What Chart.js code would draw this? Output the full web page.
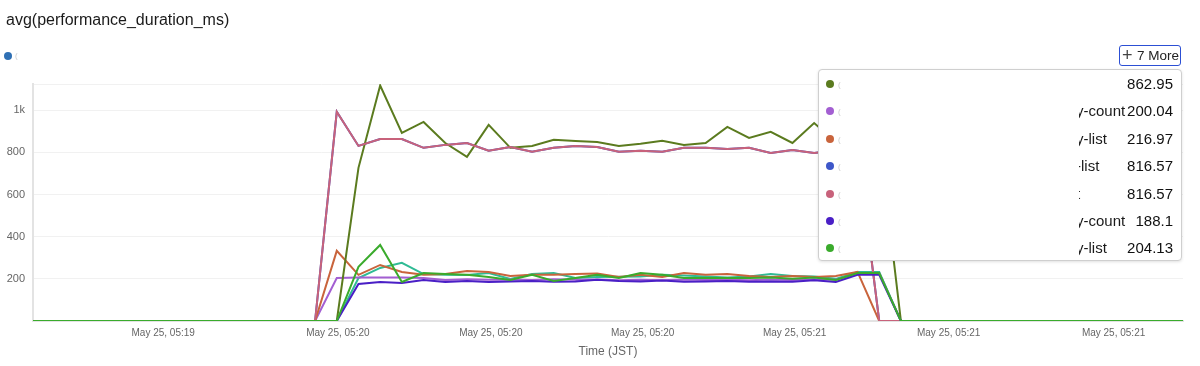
<!DOCTYPE html>
<html>
<head>
<meta charset="utf-8">
<script src="https://cdn.jsdelivr.net/npm/chart.js@4.4.1/dist/chart.umd.min.js"></script>
<style>
  html, body { margin: 0; padding: 0; background: #fff; }
  body { width: 1200px; height: 366px; position: relative; overflow: hidden;
         font-family: "Liberation Sans", Arial, sans-serif; color: #1a1a1a; }
  #chart { position: absolute; left: 0; top: 0; }
  .title { position: absolute; left: 6px; top: 11px; font-size: 16px; }
  .dot { position: absolute; width: 8px; height: 8px; border-radius: 50%; }
  .paren { position: absolute; font-size: 8px; color: #ccc; }
  .more-btn { position: absolute; left: 1119px; top: 45px; width: 60px; height: 19px;
              border: 1.5px solid #2c4fd4; border-radius: 3px; font-size: 13.5px;
              line-height: 19px; color: #222; white-space: nowrap; }
  .more-btn .plus { position: absolute; left: 2px; top: 0; font-size: 18px; font-weight: 300; color: #444; }
  .more-btn .txt { position: absolute; left: 17px; top: 0; }
  .popover { position: absolute; left: 818px; top: 69px; width: 362px; height: 190px;
             background: #fff; border: 1px solid #cfcfcf; border-radius: 4px;
             box-shadow: 0 1px 3px rgba(0,0,0,0.12); }
  .row { position: absolute; left: 0; width: 362px; height: 20px; line-height: 18px; }
  .row .lbl { position: absolute; left: 260px; top: 1px; width: 47px; overflow: hidden;
              font-size: 15px; white-space: nowrap; color: #1a1a1a; }
  .row .val { position: absolute; right: 8px; top: 1px; font-size: 15px; color: #111; }
</style>
</head>
<body>
<canvas id="chart" width="1200" height="366"></canvas>
<div class="title">avg(performance_duration_ms)</div>
<div id="legend-row"></div>
<div class="more-btn"><span class="plus">+</span><span class="txt">7 More</span></div>
<div class="popover" id="popover"></div>

<script>
// ---------- Data -------------------------------------------------------
// one point every few seconds, 54 buckets on the x axis
const timeIdx = [
  0, 1, 2, 3, 4, 5, 6, 7, 8, 9, 10, 11, 12, 13, 14, 15, 16, 17,
  18, 19, 20, 21, 22, 23, 24, 25, 26, 27, 28, 29, 30, 31, 32, 33, 34, 35,
  36, 37, 38, 39, 40, 41, 42, 43, 44, 45, 46, 47, 48, 49, 50, 51, 52, 53
];
const xTickPos    = [6, 14.05, 21.1, 28.1, 35.1, 42.2, 49.8];
const xTickLabels = ["May 25, 05:19", "May 25, 05:20", "May 25, 05:20", "May 25, 05:20",
                     "May 25, 05:21", "May 25, 05:21", "May 25, 05:21"];

const oliveVals = [0,0,0,0,0,0,0,0,0,0,0,0,0,0,0,
  727, 1118, 893, 945, 845, 779, 931, 822, 831, 860, 855, 850, 831, 841, 855, 836, 845, 921, 869, 898, 845, 940, 850, 880, 870,
  0,0,0,0,0,0,0,0,0,0,0,0,0,0];
const purpleVals = [0,0,0,0,0,0,0,0,0,0,0,0,0,0,
  204, 206, 207, 206, 204, 195, 198, 196, 197, 195, 198, 196, 197, 193, 196, 194, 197, 195, 196, 194, 197, 195, 198, 196, 222, 228,
  0,0,0,0,0,0,0,0,0,0,0,0,0,0];
const orangeVals = [0,0,0,0,0,0,0,0,0,0,0,0,0,0,
  333, 219, 266, 233, 219, 223, 237, 233, 214, 219, 219, 223, 225, 209, 219, 209, 228, 219, 223, 214, 209, 214, 209, 214, 233,
  0,0,0,0,0,0,0,0,0,0,0,0,0,0,0];
const pinkVals = [0,0,0,0,0,0,0,0,0,0,0,0,0,0,
  993, 831, 864, 864, 822, 836, 845, 808, 826, 803, 822, 831, 826, 803, 808, 803, 822, 822, 817, 822, 798, 812, 798, 810, 816,
  0,0,0,0,0,0,0,0,0,0,0,0,0,0,0];
const blueVals = [0,0,0,0,0,0,0,0,0,0,0,0,0,0,
  993, 831, 864, 864, 822, 836, 845, 808, 826, 803, 822, 831, 826, 803, 808, 803, 822, 822, 817, 822, 798, 812, 798, 810, 816,
  0,0,0,0,0,0,0,0,0,0,0,0,0,0,0];
const indigoVals = [0,0,0,0,0,0,0,0,0,0,0,0,0,0,0,
  176, 185, 180, 195, 185, 190, 185, 188, 190, 186, 188, 196, 190, 188, 192, 186, 188, 190, 186, 188, 186, 194, 185, 219, 219,
  0,0,0,0,0,0,0,0,0,0,0,0,0,0];
const greenVals = [0,0,0,0,0,0,0,0,0,0,0,0,0,0,0,
  257, 361, 185, 228, 223, 219, 209, 195, 219, 190, 204, 219, 204, 228, 219, 204, 204, 204, 204, 206, 200, 206, 195, 228, 228,
  0,0,0,0,0,0,0,0,0,0,0,0,0,0];
const tealVals = [0,0,0,0,0,0,0,0,0,0,0,0,0,0,0,
  204, 252, 276, 223, 219, 218, 228, 200, 223, 228, 204, 209, 210, 211, 219, 216, 211, 207, 211, 223, 214, 211, 200, 233, 233,
  0,0,0,0,0,0,0,0,0,0,0,0,0,0];

// series shown in the "+7 More" list, with their averages
const moreColors = ["#5b7b1f", "#a35fd2", "#c9643c", "#3d57c9", "#c8627b", "#4a1fc6", "#3aab2c"];
const moreTails  = ["", "y-count", "y-list", "-list", "t", "y-count", "y-list"];
const moreValues = ["862.95", "200.04", "216.97", "816.57", "816.57", "188.1", "204.13"];
const firstColor = "#2f70b4";
const tealColor  = "#2fbb94";

// ---------- Chart ------------------------------------------------------
const ds = (data, color, order) => ({
  data, borderColor: color, backgroundColor: color, borderWidth: 2,
  pointRadius: 0, tension: 0, order,
});

new Chart(document.getElementById("chart"), {
  type: "line",
  data: {
    labels: timeIdx,
    datasets: [
      ds(tealVals,   tealColor,      6),
      ds(oliveVals,  moreColors[0],  3),
      ds(purpleVals, moreColors[1],  5),
      ds(orangeVals, moreColors[2],  4),
      ds(blueVals,   moreColors[3],  7),
      ds(pinkVals,   moreColors[4],  2),
      ds(indigoVals, moreColors[5],  1),
      ds(greenVals,  moreColors[6],  0),
    ],
  },
  options: {
    responsive: false,
    animation: false,
    devicePixelRatio: 1,
    layout: { padding: { left: 0, top: 84, right: 17, bottom: 0 } },
    plugins: { legend: { display: false }, tooltip: { enabled: false } },
    scales: {
      x: {
        type: "linear",
        min: 0, max: 53,
        afterFit: s => { s.height = 45; },
        afterBuildTicks: s => { s.ticks = xTickPos.map(v => ({ value: v })); },
        grid: { display: false, drawTicks: false },
        border: { color: "#e3e3e3", width: 2 },
        ticks: {
          padding: 6, color: "#666", maxRotation: 0, autoSkip: false,
          font: { family: "Liberation Sans", size: 10 },
          callback: (v, i) => xTickLabels[i],
        },
        title: {
          display: true, text: "Time (JST)", color: "#666",
          font: { family: "Liberation Sans", size: 12 },
          padding: { top: 4, bottom: 7 },
        },
      },
      y: {
        min: 0, max: 1125,
        afterFit: s => { s.width = 33; },
        grid: { color: "#f1f1f1", drawTicks: false },
        border: { color: "#e3e3e3", width: 2 },
        ticks: {
          stepSize: 200, padding: 8, color: "#666",
          font: { family: "Liberation Sans", size: 11 },
          callback: v => (v === 0 || v % 200 !== 0) ? "" : (v >= 1000 ? (v / 1000) + "k" : v),
        },
      },
    },
  },
});

// ---------- Legend row + popover --------------------------------------
const legendRow = document.getElementById("legend-row");
legendRow.innerHTML =
  `<div class="dot" style="left:4px;top:52px;background:${firstColor}"></div>` +
  `<div class="paren" style="left:15px;top:51px">(</div>`;

const pop = document.getElementById("popover");
moreColors.forEach((c, i) => {
  const top = 4 + i * 27.4;
  const row = document.createElement("div");
  row.className = "row";
  row.style.top = top + "px";
  row.innerHTML =
    `<div class="dot" style="left:7px;top:6px;background:${c}"></div>` +
    `<div class="paren" style="left:19px;top:2px">(</div>` +
    `<div class="lbl"><span style="margin-left:-3px">${moreTails[i]}</span></div>` +
    `<div class="val">${moreValues[i]}</div>`;
  pop.appendChild(row);
});
</script>
</body>
</html>
